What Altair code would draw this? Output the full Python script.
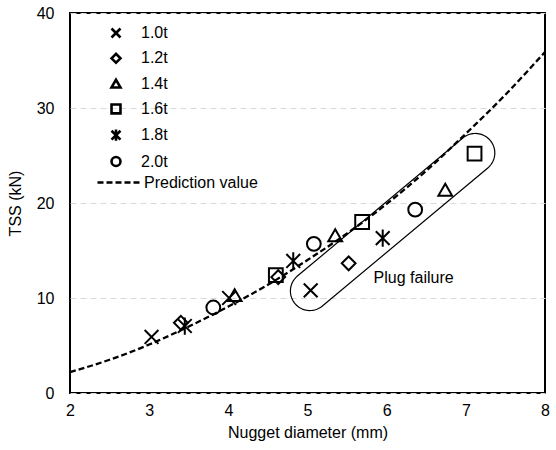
import altair as alt
import numpy as np
import pandas as pd

# Specimen series (sheet thickness ratio)
groups = ["1.0t", "1.2t", "1.4t", "1.6t", "1.8t", "2.0t"]

# Measured nugget diameter (mm) and tensile-shear strength (kN)
thickness = ["1.0t", "1.0t", "1.2t", "1.2t", "1.4t", "1.4t",
             "1.6t", "1.6t", "1.8t", "1.8t", "2.0t", "2.0t",
             "1.0t", "1.2t", "1.8t", "2.0t", "1.4t", "1.6t"]
diameter = [3.03, 4.01, 3.40, 4.63, 4.08, 5.35,
            4.60, 5.69, 3.45, 4.82, 3.81, 5.08,
            5.04, 5.52, 5.95, 6.36, 6.74, 7.11]
tss = [5.9, 10.0, 7.4, 12.2, 10.3, 16.6,
       12.4, 18.0, 7.05, 13.9, 9.0, 15.7,
       10.8, 13.65, 16.3, 19.3, 21.4, 25.2]
plug = [False] * 12 + [True] * 6

# Prediction curve
pred_d = [2.0, 2.5, 3.0, 3.5, 4.0, 4.5, 5.0, 5.5, 6.0, 6.5, 7.0, 7.5, 8.0]
pred_tss = [2.2, 3.5, 5.1, 7.0, 9.1, 11.4, 14.0, 16.8, 19.9, 23.4, 27.3, 31.4, 35.9]

X_DOMAIN = [2, 8]
Y_DOMAIN = [0, 40]
W, H = 475, 380
FONT = "Liberation Sans"
FS = 16

pts = pd.DataFrame({"d": diameter, "tss": tss, "grp": thickness, "plug": plug})
pred = pd.DataFrame({"d": pred_d, "tss": pred_tss, "series": "Prediction value"})

# Rounded outline enclosing the plug-failure specimens, built in screen space
def to_px(d, t):
    return ((d - X_DOMAIN[0]) / (X_DOMAIN[1] - X_DOMAIN[0]) * W,
            H - (t - Y_DOMAIN[0]) / (Y_DOMAIN[1] - Y_DOMAIN[0]) * H)

def to_data(px, py):
    return (X_DOMAIN[0] + px / W * (X_DOMAIN[1] - X_DOMAIN[0]),
            Y_DOMAIN[0] + (H - py) / H * (Y_DOMAIN[1] - Y_DOMAIN[0]))

plug_pts = pts[pts.plug].sort_values("d")
a = np.array(to_px(plug_pts.d.iloc[0], plug_pts.tss.iloc[0]))
b = np.array(to_px(plug_pts.d.iloc[-1], plug_pts.tss.iloc[-1]))
u = (b - a) / np.linalg.norm(b - a)
a, b = a - 1.0 * u, b + 1.0 * u
r = 19.5
phi = np.arctan2(u[1], u[0])
ang_b = np.linspace(phi - np.pi / 2, phi + np.pi / 2, 40)
ang_a = np.linspace(phi + np.pi / 2, phi + 3 * np.pi / 2, 40)
outline = [b + r * np.array([np.cos(t), np.sin(t)]) for t in ang_b]
outline += [a + r * np.array([np.cos(t), np.sin(t)]) for t in ang_a]
outline.append(outline[0])
ring = pd.DataFrame(
    [dict(zip(("d", "tss"), to_data(*p)), i=i) for i, p in enumerate(outline)]
)

x_scale = alt.Scale(domain=X_DOMAIN, nice=False, zero=False)
y_scale = alt.Scale(domain=Y_DOMAIN, nice=False)

x_enc = alt.X("d:Q", scale=x_scale,
              axis=alt.Axis(title="Nugget diameter (mm)", values=list(range(2, 9)),
                            format="d", grid=False, ticks=False, domain=False,
                            labelFlush=False, labelPadding=9, titlePadding=6))
y_enc = alt.Y("tss:Q", scale=y_scale,
              axis=alt.Axis(title="TSS (kN)", values=[0, 10, 20, 30, 40],
                            format="d", grid=True, gridDash=[6, 4], gridColor="#d9d9d9",
                            gridWidth=1, ticks=False, domain=False,
                            labelFlush=False, labelPadding=16, titlePadding=13))

curve = alt.Chart(pred).mark_line(
    color="black", strokeWidth=2.3, interpolate="monotone"
).encode(
    x=x_enc, y=y_enc,
    strokeDash=alt.StrokeDash(
        "series:N",
        scale=alt.Scale(domain=["Prediction value"], range=[[6, 3]]),
        legend=alt.Legend(orient="none", legendX=26, legendY=147, title=None,
                          labelFontSize=FS, labelFont=FONT, labelColor="black",
                          symbolSize=1764, symbolStrokeWidth=2.3,
                          symbolStrokeColor="black", labelOffset=3),
    ),
)

points = alt.Chart(pts).mark_point(
    filled=False, color="black", strokeWidth=2, size=190, opacity=1
).encode(
    x="d:Q", y="tss:Q",
    shape=alt.Shape(
        "grp:N",
        scale=alt.Scale(
            domain=groups,
            range=["M-1,-1L1,1M-1,1L1,-1", "diamond", "triangle-up", "square",
                   "M-1,-1L1,1M-1,1L1,-1M0,-1.25L0,1.25", "circle"],
        ),
        legend=alt.Legend(orient="none", legendX=38, legendY=12, title=None,
                          labelFontSize=FS, labelFont=FONT, labelColor="black",
                          symbolSize=80, symbolStrokeWidth=2.6,
                          symbolStrokeColor="black", symbolFillColor="transparent",
                          rowPadding=5.3, labelOffset=17),
    ),
)

outline_line = alt.Chart(ring).mark_line(color="black", strokeWidth=1.2).encode(
    x="d:Q", y="tss:Q", order="i:Q"
)

label = alt.Chart(pd.DataFrame({"d": [6.34], "tss": [12.07], "t": ["Plug failure"]})).mark_text(
    font=FONT, fontSize=FS, color="black", align="center", baseline="middle"
).encode(x="d:Q", y="tss:Q", text="t:N")

chart = alt.layer(curve, outline_line, points, label).properties(
    width=W, height=H,
    autosize=alt.AutoSizeParams(type="none"),
    padding={"left": 70, "top": 13, "right": 11, "bottom": 57},
).configure_view(
    stroke="black", strokeWidth=2
).configure_axis(
    labelFont=FONT, labelFontSize=FS, labelColor="black",
    titleFont=FONT, titleFontSize=FS, titleFontWeight="normal", titleColor="black",
).configure_legend(
    padding=0
).resolve_scale(
    shape="independent"
)

chart.save("out.html", embed_options={"renderer": "svg", "actions": False})
